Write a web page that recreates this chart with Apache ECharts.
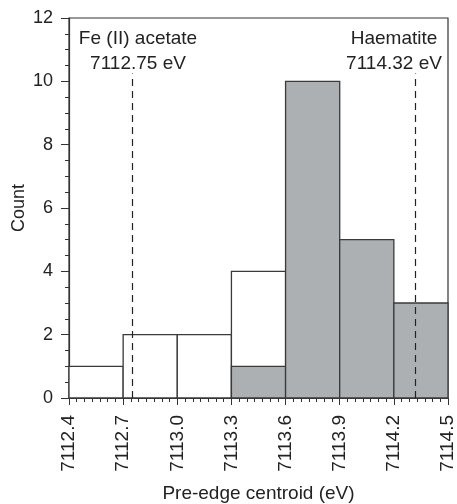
<!DOCTYPE html>
<html>
<head>
<meta charset="utf-8">
<script src="https://cdn.jsdelivr.net/npm/echarts@6/dist/echarts.min.js"></script>
<style>
  html, body { margin: 0; padding: 0; background: #fff; }
  #chart { width: 457px; height: 504px; }
</style>
</head>
<body>
<div id="chart"></div>
<script>
// histogram bins (left edges, eV)
const binStarts = [7112.4, 7112.7, 7113.0, 7113.3, 7113.6, 7113.9, 7114.2];
const binWidth = 0.3;
// open bars: all samples, grey bars: subset
const openCounts = [1, 2, 2, 4, 0, 0, 0];
const greyCounts = [0, 0, 0, 1, 10, 5, 3];
// reference compounds
const refNames = ['Fe (II) acetate', 'Haematite'];
const refEnergies = [7112.75, 7114.32];
const refLineTop = 10.25;

const FONT = "'Liberation Sans', Arial, Helvetica, sans-serif";
const INK = '#222';

function binData(counts) {
    return binStarts
        .map((x, i) => [x, x + binWidth, counts[i]])
        .filter(d => d[2] > 0);
}

function renderBin(fill) {
    return function (params, api) {
        const p0 = api.coord([api.value(0), api.value(2)]);
        const p1 = api.coord([api.value(1), 0]);
        return {
            type: 'rect',
            shape: { x: p0[0], y: p0[1], width: p1[0] - p0[0], height: p1[1] - p0[1] },
            style: { fill: fill, stroke: '#3a3a3a', lineWidth: 1.3 }
        };
    };
}

function refLabel(i, cx) {
    return {
        type: 'text', x: cx, y: 26,
        style: {
            text: refNames[i] + '\n' + refEnergies[i].toFixed(2) + ' eV',
            align: 'center', verticalAlign: 'top',
            fontFamily: FONT, fontSize: 19, lineHeight: 25, fill: INK
        }
    };
}

const chart = echarts.init(document.getElementById('chart'));

const option = {
    animation: false,
    grid: {
        left: 69, right: 9, top: 18, bottom: 106,
        outerBoundsMode: 'none',
        containLabel: false,
        show: true, borderColor: '#333', borderWidth: 1.2
    },
    xAxis: {
        type: 'value',
        min: 7112.4,
        max: 7114.5,
        interval: 0.3,
        name: 'Pre-edge centroid (eV)',
        nameLocation: 'middle',
        nameGap: 86,
        nameMoveOverlap: false,
        nameTextStyle: { fontFamily: FONT, fontSize: 19, color: INK },
        axisLine: { lineStyle: { color: '#333', width: 1.2 } },
        axisTick: { length: 7, lineStyle: { color: '#333' } },
        minorTick: { show: true, splitNumber: 7, length: 4, lineStyle: { color: '#333' } },
        splitLine: { show: false },
        axisLabel: {
            rotate: 90,
            margin: 17,
            fontFamily: FONT, fontSize: 19, color: INK,
            formatter: v => v.toFixed(1)
        }
    },
    yAxis: {
        type: 'value',
        min: 0,
        max: 12,
        interval: 2,
        name: 'Count',
        nameLocation: 'middle',
        nameGap: 41,
        nameMoveOverlap: false,
        nameTextStyle: { fontFamily: FONT, fontSize: 18, color: INK },
        axisLine: { show: true, lineStyle: { color: '#333', width: 1.2 } },
        axisTick: { show: true, length: 8, lineStyle: { color: '#333' } },
        minorTick: { show: true, splitNumber: 4, length: 4, lineStyle: { color: '#333' } },
        splitLine: { show: false },
        axisLabel: { margin: 16, fontFamily: FONT, fontSize: 18, color: INK }
    },
    series: [
        {
            name: 'open',
            type: 'custom',
            renderItem: renderBin('#ffffff'),
            encode: { x: [0, 1], y: 2 },
            data: binData(openCounts),
            z: 2
        },
        {
            name: 'grey',
            type: 'custom',
            renderItem: renderBin('#adb0b3'),
            encode: { x: [0, 1], y: 2 },
            data: binData(greyCounts),
            z: 3
        },
        {
            name: 'refs',
            type: 'line',
            data: [],
            z: 4,
            markLine: {
                silent: true,
                symbol: 'none',
                label: { show: false },
                lineStyle: { color: '#222', type: [7, 5], width: 1.2 },
                data: refEnergies.map(e => [
                    { coord: [e, 0] },
                    { coord: [e, refLineTop] }
                ])
            }
        }
    ],
    graphic: [refLabel(0, 138), refLabel(1, 394)]
};

chart.setOption(option);
</script>
</body>
</html>
